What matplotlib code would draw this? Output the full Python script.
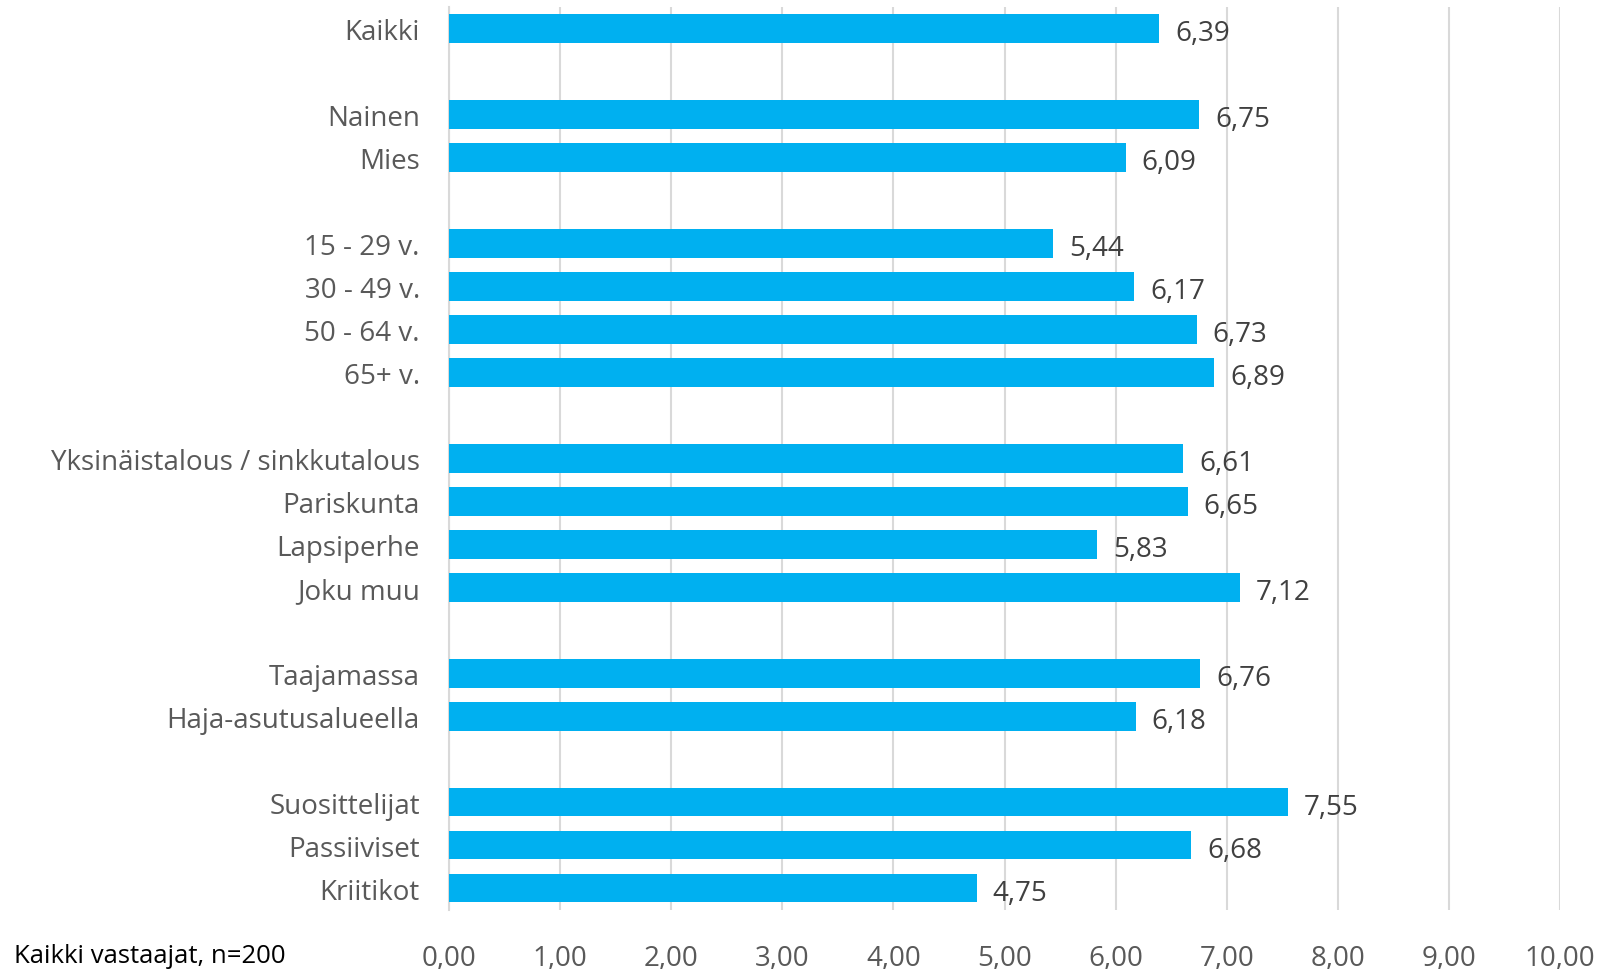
import matplotlib
matplotlib.use("Agg")
import matplotlib.pyplot as plt
import numpy as np

categories = ["Kaikki", "", "Nainen", "Mies", "", "15 - 29 v.", "30 - 49 v.", "50 - 64 v.", "65+ v.", "",
              "Yksinäistalous / sinkkutalous", "Pariskunta", "Lapsiperhe", "Joku muu", "",
              "Taajamassa", "Haja-asutusalueella", "", "Suosittelijat", "Passiiviset", "Kriitikot"]
values = [6.39, None, 6.75, 6.09, None, 5.44, 6.17, 6.73, 6.89, None,
          6.61, 6.65, 5.83, 7.12, None, 6.76, 6.18, None, 7.55, 6.68, 4.75]
xticks = np.arange(0, 11, 1)
note = "Kaikki vastaajat, n=200"

plt.rcParams['font.family'] = ['Open Sans', 'DejaVu Sans']

W, H = 1601, 970
fig = plt.figure(figsize=(W/100, H/100), dpi=100)
left, right = 449/W, 1560/W
top, bottom = 8/H, 910.5/H
ax = fig.add_axes([left, 1-bottom, right-left, bottom-top])

n = len(categories)
ypos = np.arange(n)
for y, v in zip(ypos, values):
    if v is None:
        continue
    ax.barh(y, v, height=0.67, color="#00B0F0", zorder=3)
    ax.annotate(f"{v:.2f}".replace(".", ","), xy=(v, y), xytext=(16, -5), textcoords="offset pixels",
                va="center", ha="left", fontsize=20, color="#404040")

ax.set_ylim(n - 0.5, -0.5)
ax.set_xlim(0, 10)
ax.set_yticks(ypos)
ax.set_yticklabels(categories, fontsize=20, color="#595959")
ax.set_xticks(xticks)
ax.set_xticklabels([f"{t:.2f}".replace(".", ",") for t in xticks], fontsize=20, color="#595959")
ax.tick_params(axis="both", length=0)
ax.tick_params(axis="y", pad=21)
ax.tick_params(axis="x", pad=25)
ax.grid(axis="x", color="#D9D9D9", linewidth=1.5, zorder=0)
for s in ["top", "right", "bottom"]:
    ax.spines[s].set_visible(False)
ax.spines["left"].set_color("#D9D9D9")
ax.spines["left"].set_linewidth(1.5)

fig.text(14/W, 1-957/H, note, fontsize=18.5, color="black", ha="left", va="center")

fig.savefig("out.png", dpi=100)
